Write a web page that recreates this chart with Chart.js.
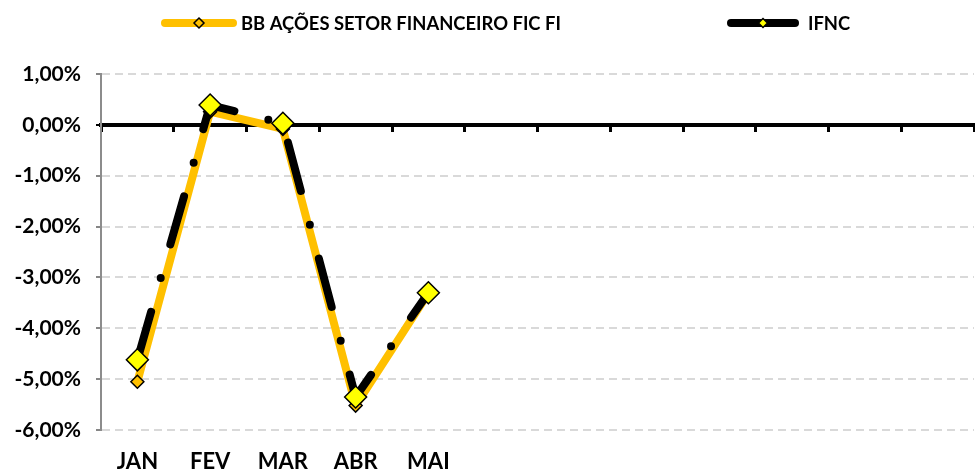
<!DOCTYPE html>
<html>
<head>
<meta charset="utf-8">
<script src="https://cdn.jsdelivr.net/npm/chart.js@4.4.1/dist/chart.umd.min.js"></script>
<style>
  html, body { margin: 0; padding: 0; background: #ffffff; }
  #wrap { width: 975px; height: 474px; }
</style>
</head>
<body>
<div id="wrap"><canvas id="c" width="975" height="474"></canvas></div>
<script>
// ---- data ----
const months = ["JAN", "FEV", "MAR", "ABR", "MAI", "", "", "", "", "", "", ""];
const seriesNames = ["BB AÇÕES SETOR FINANCEIRO FIC FI", "IFNC"];
const bbValues   = [-5.05, 0.26, -0.08, -5.52, -3.31, null, null, null, null, null, null, null];
const ifncValues = [-4.62, 0.39, 0.03, -5.35, -3.30, null, null, null, null, null, null, null];
const yTicks = { min: -6, max: 1, step: 1 };

const FONT = "Lato, 'Open Sans', 'DejaVu Sans', sans-serif";

function pct(v) { return v.toFixed(2).replace('.', ',') + '%'; }

function diamond(ctx, x, y, r, fill, stroke, lw) {
  ctx.beginPath();
  ctx.moveTo(x, y - r); ctx.lineTo(x + r, y); ctx.lineTo(x, y + r); ctx.lineTo(x - r, y);
  ctx.closePath();
  ctx.fillStyle = fill; ctx.fill();
  ctx.lineWidth = lw; ctx.strokeStyle = stroke; ctx.stroke();
}

const legendPlugin = {
  id: 'customLegend',
  afterDraw(chart) {
    const ctx = chart.ctx;
    const ds = chart.data.datasets;
    const items = [
      { d: ds[0], x0: 165, x1: 233, dx: 199, r: 5, tx: 241 },
      { d: ds[1], x0: 731, x1: 795, dx: 763, r: 4.5, tx: 808 }
    ];
    const y = 23;
    ctx.save();
    items.forEach(it => {
      ctx.beginPath();
      ctx.lineCap = 'round';
      ctx.lineWidth = 8;
      ctx.strokeStyle = it.d.borderColor;
      ctx.moveTo(it.x0, y); ctx.lineTo(it.x1, y); ctx.stroke();
      diamond(ctx, it.dx, y, it.r, it.d.pointBackgroundColor, '#000000', 1.5);
      ctx.fillStyle = '#000000';
      ctx.font = "bold 18.4px " + FONT;
      ctx.textBaseline = 'middle';
      ctx.textAlign = 'left';
      ctx.fillText(it.d.label, it.tx, y + 1);
    });
    ctx.restore();
  }
};

new Chart(document.getElementById('c'), {
  type: 'line',
  data: {
    labels: months,
    datasets: [
      {
        label: seriesNames[0],
        data: bbValues,
        borderColor: '#FFC000',
        borderWidth: 8,
        borderJoinStyle: 'round',
        borderCapStyle: 'round',
        pointStyle: 'rectRot',
        pointRadius: 6.5,
        pointBackgroundColor: '#FFC000',
        pointBorderColor: '#000000',
        pointBorderWidth: 1.5,
        tension: 0,
        order: 2,
        xAxisID: 'x',
        yAxisID: 'y'
      },
      {
        label: seriesNames[1],
        data: ifncValues,
        borderColor: '#000000',
        borderWidth: 8,
        borderDash: [50, 35, 0, 35],
        borderCapStyle: 'round',
        borderJoinStyle: 'round',
        pointStyle: 'rectRot',
        pointRadius: 11,
        pointBackgroundColor: '#FFFF00',
        pointBorderColor: '#000000',
        pointBorderWidth: 1.5,
        tension: 0,
        order: 1,
        xAxisID: 'x',
        yAxisID: 'y'
      }
    ]
  },
  options: {
    responsive: false,
    animation: false,
    devicePixelRatio: 1,
    layout: { autoPadding: false, padding: { top: 74, left: 0, right: 1, bottom: 0 } },
    plugins: { legend: { display: false }, tooltip: { enabled: false } },
    scales: {
      x: {
        type: 'category',
        position: 'bottom',
        offset: true,
        grid: { display: false, drawTicks: false },
        border: { display: false },
        ticks: {
          autoSkip: false, maxRotation: 0, minRotation: 0,
          color: '#000000', padding: 19,
          font: { family: FONT, size: 22, weight: 'bold' }
        },
        afterFit(s) { s.height = 44; s.paddingLeft = 0; s.paddingRight = 0; }
      },
      x2: {
        type: 'category',
        position: { y: 0 },
        offset: true,
        grid: { offset: true, drawOnChartArea: false, drawTicks: true, tickLength: 5, tickWidth: 3, tickColor: '#000000', color: '#000000' },
        border: { display: true, color: '#000000', width: 4 },
        ticks: { display: false },
        afterFit(s) { s.paddingLeft = 0; s.paddingRight = 0; }
      },
      y: {
        type: 'linear',
        min: yTicks.min, max: yTicks.max,
        ticks: {
          stepSize: yTicks.step,
          color: '#000000',
          padding: 15,
          font: { family: FONT, size: 21, weight: 'bold' },
          callback: (v) => pct(v)
        },
        grid: {
          color: (c) => (c.tick && c.tick.value === 0) ? 'rgba(0,0,0,0)' : '#d9d9d9',
          lineWidth: 2,
          tickLength: 5,
          tickWidth: 2,
          tickColor: (c) => (c.tick && c.tick.value === 0) ? '#000000' : '#868686',
          tickBorderDash: []
        },
        border: { display: true, color: '#8c8c8c', width: 2, dash: [8, 5] },
        afterFit(s) { s.width = 101; }
      }
    }
  },
  plugins: [legendPlugin]
});
</script>
</body>
</html>
